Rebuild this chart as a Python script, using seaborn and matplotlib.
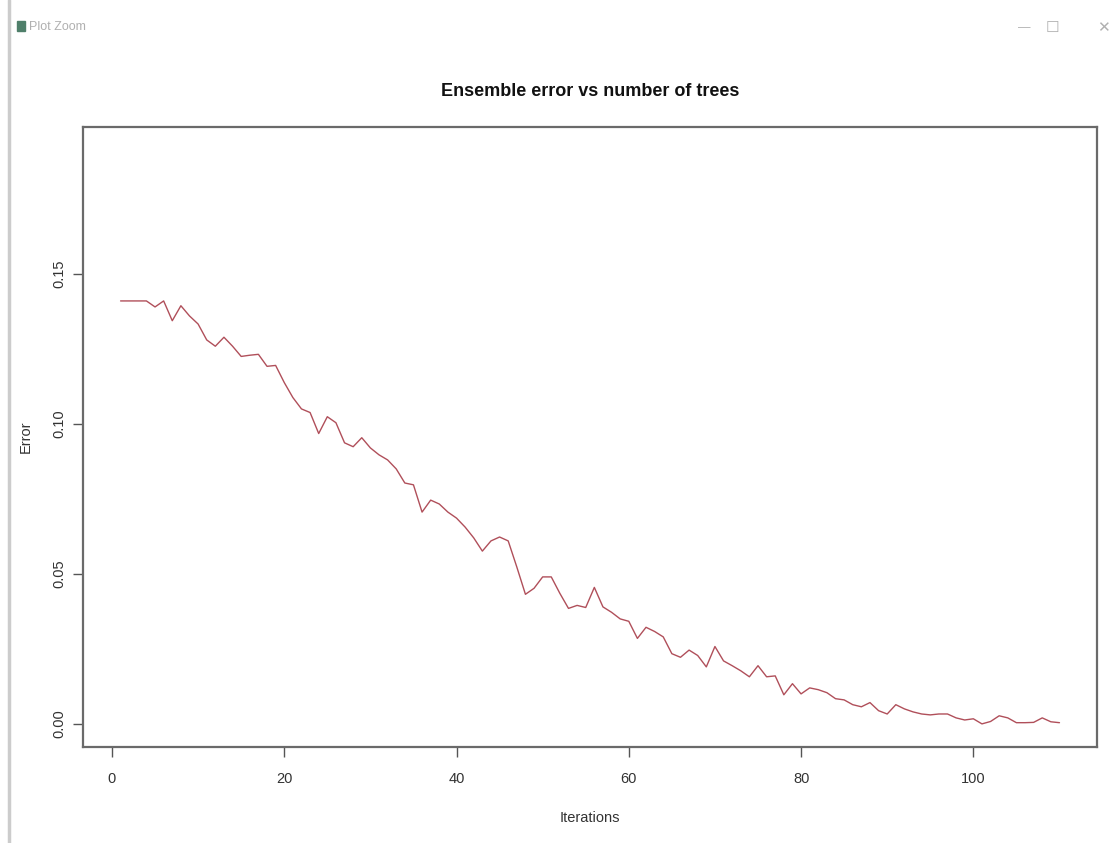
import numpy as np
import pandas as pd
import matplotlib
matplotlib.use("Agg")
import matplotlib.pyplot as plt
from matplotlib.lines import Line2D
from matplotlib.patches import Rectangle
import seaborn as sns

# Ensemble error after each boosting iteration
iterations = np.arange(1, 111)
errors = [
    0.1410, 0.1410, 0.1410, 0.1410, 0.1390, 0.1410, 0.1344, 0.1394, 0.1360, 0.1333,
    0.1280, 0.1259, 0.1289, 0.1259, 0.1225, 0.1229, 0.1232, 0.1192, 0.1195, 0.1138,
    0.1088, 0.1050, 0.1038, 0.0968, 0.1024, 0.1004, 0.0937, 0.0924, 0.0954, 0.0920,
    0.0897, 0.0880, 0.0850, 0.0803, 0.0797, 0.0706, 0.0746, 0.0733, 0.0706, 0.0686,
    0.0656, 0.0620, 0.0576, 0.0610, 0.0623, 0.0610, 0.0523, 0.0432, 0.0452, 0.0490,
    0.0490, 0.0435, 0.0385, 0.0395, 0.0388, 0.0455, 0.0390, 0.0372, 0.0350, 0.0342,
    0.0285, 0.0322, 0.0308, 0.0290, 0.0234, 0.0222, 0.0246, 0.0228, 0.0190, 0.0258,
    0.0210, 0.0194, 0.0177, 0.0157, 0.0194, 0.0157, 0.0160, 0.0097, 0.0134, 0.0100,
    0.0120, 0.0114, 0.0104, 0.0084, 0.0080, 0.0064, 0.0057, 0.0071, 0.0044, 0.0033,
    0.0064, 0.0050, 0.0040, 0.0033, 0.0030, 0.0033, 0.0033, 0.0020, 0.0013, 0.0017,
    0.0000, 0.0008, 0.0027, 0.0020, 0.0004, 0.0004, 0.0005, 0.0020, 0.0007, 0.0004,
]
x_ticks = [0, 20, 40, 60, 80, 100]
y_ticks = [0.00, 0.05, 0.10, 0.15]
y_tick_labels = ["0.00", "0.05", "0.10", "0.15"]

df = pd.DataFrame({"Iterations": iterations, "Error": errors})

sns.set_style("white")
plt.rcParams["font.family"] = ["Liberation Sans", "DejaVu Sans"]

fig = plt.figure(figsize=(11.16, 8.43), dpi=100)
ax = fig.add_axes([0.0744, 0.1139, 0.9086, 0.7355])

sns.lineplot(data=df, x="Iterations", y="Error", ax=ax,
             color="#b04f5a", linewidth=1.0)

ax.set_xlim(-3.36, 114.36)
ax.set_ylim(-0.0077, 0.199)
ax.set_xticks(x_ticks)
ax.set_xticklabels([str(t) for t in x_ticks])
ax.set_yticks(y_ticks)
ax.set_yticklabels(y_tick_labels, rotation=90, va="center")

ax.tick_params(axis="both", direction="out", length=7, width=1.0,
               colors="#555555", labelcolor="#333333", labelsize=10.5,
               bottom=True, left=True)
ax.tick_params(axis="x", pad=11)
ax.tick_params(axis="y", pad=5)
for s in ax.spines.values():
    s.set_color("#6a6a6a")
    s.set_linewidth(1.6)

ax.set_xlabel("Iterations", fontsize=10.5, color="#333333", labelpad=18)
ax.set_ylabel("Error", fontsize=10.5, color="#333333", labelpad=14)
ax.set_title("Ensemble error vs number of trees", fontsize=13, fontweight="bold",
             color="#111111", pad=22)

# Window frame of the plot viewer
fig.add_artist(Line2D([0.008, 0.008], [0.0, 1.0], color="#cccccc", linewidth=2.5))
fig.add_artist(Rectangle((0.015, 0.963), 0.007, 0.012, color="#4f7f6a"))
fig.text(0.026, 0.968, "Plot Zoom", fontsize=9, color="#b0b0b0", va="center")
fig.text(0.918, 0.967, "—", fontsize=9, color="#b0b0b0", va="center", ha="center")
fig.text(0.943, 0.967, "☐", fontsize=11, color="#b0b0b0", va="center", ha="center",
         family="DejaVu Sans")
fig.text(0.989, 0.967, "✕", fontsize=11, color="#b0b0b0", va="center", ha="center",
         family="DejaVu Sans")

fig.savefig("out.png", dpi=100, facecolor="white")
